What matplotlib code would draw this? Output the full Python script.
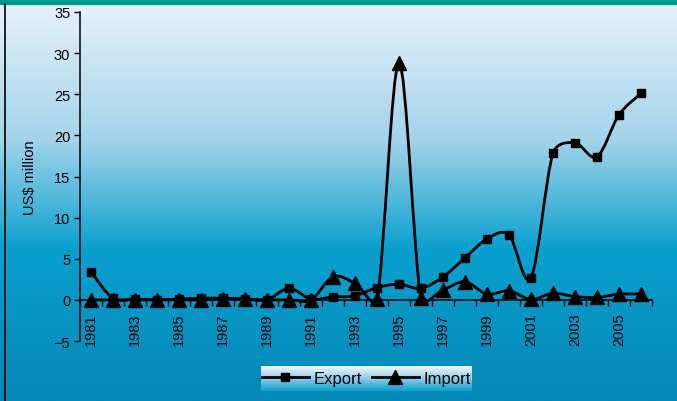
import matplotlib
matplotlib.use("Agg")
import matplotlib.pyplot as plt
import numpy as np
from matplotlib.path import Path
from matplotlib.patches import PathPatch, Rectangle
from matplotlib.colors import LinearSegmentedColormap
from matplotlib.lines import Line2D

plt.rcParams['font.family'] = ['Liberation Sans', 'DejaVu Sans']

# donnees (US$ million)
years = list(range(1981, 2007))
export = [3.4, 0.2, 0.1, 0.0, 0.1, 0.2, 0.2, 0.1, 0.0, 1.4, 0.1, 0.35, 0.5,
          1.5, 1.9, 1.4, 2.8, 5.1, 7.4, 7.9, 2.7, 17.8, 19.1, 17.4, 22.5, 25.1]
imports = [0.0, 0.0, 0.0, 0.0, 0.0, 0.0, 0.1, 0.1, 0.0, 0.0, 0.0, 2.8, 2.0,
           0.1, 28.8, 0.2, 1.2, 2.2, 0.7, 1.1, 0.05, 0.8, 0.4, 0.3, 0.7, 0.7]
yticks = [-5, 0, 5, 10, 15, 20, 25, 30, 35]

# echelle approx. en pixels (pour le lissage)
PX_X, PX_Y = 22.0, 8.23


def smooth_path(x, y, f=0.5):
    # courbe lissee facon Excel (Bezier Catmull-Rom, bras limites)
    pts = np.column_stack([np.asarray(x) * PX_X, np.asarray(y) * PX_Y]).astype(float)
    n = len(pts)
    verts = [pts[0]]
    codes = [Path.MOVETO]
    for i in range(n - 1):
        p0 = pts[i - 1] if i > 0 else pts[i]
        p1 = pts[i]
        p2 = pts[i + 1]
        p3 = pts[i + 2] if i + 2 < n else pts[i + 1]
        seg = np.hypot(*(p2 - p1))
        a1 = (p2 - p0) / 6.0
        a2 = (p3 - p1) / 6.0
        for a in (a1, a2):
            l = np.hypot(*a)
            if l > f * seg:
                a *= f * seg / l
        verts += [p1 + a1, p2 - a2, p2]
        codes += [Path.CURVE4] * 3
    verts = np.array(verts) / [PX_X, PX_Y]
    return Path(verts, codes)


fig = plt.figure(figsize=(6.77, 4.02), dpi=100)

# fond en degrade
bg = fig.add_axes([0, 0, 1, 1], zorder=0)
cmap = LinearSegmentedColormap.from_list(
    'bg', [(0, '#e9f3fa'), (0.35, '#a3d3ea'), (0.62, '#0ba1cf'), (1, '#0387b6')])
grad = np.linspace(0, 1, 256).reshape(-1, 1)
bg.imshow(grad, aspect='auto', cmap=cmap, extent=[0, 1, 0, 1], origin='upper')
bg.add_patch(Rectangle((0, 1 - 5 / 402), 1, 5 / 402, color='#009a92', zorder=3))
bg.plot([5 / 677, 5 / 677], [0, 1 - 5 / 402], color='black', lw=1.2, zorder=3)
bg.set_xlim(0, 1)
bg.set_ylim(0, 1)
bg.axis('off')

ax = fig.add_axes([80 / 677, 1 - 342 / 402, 572 / 677, 329 / 402], zorder=1)
ax.set_facecolor('none')

x = np.arange(len(years))
for vals, mk, ms in [(export, 's', 6), (imports, '^', 10)]:
    ax.add_patch(PathPatch(smooth_path(x, vals), fill=False, lw=2.0,
                           edgecolor='black', zorder=3, clip_on=False))
    ax.plot(x, vals, linestyle='none', marker=mk, markersize=ms,
            color='black', zorder=4, clip_on=False)

ax.set_xlim(-0.5, len(years) - 0.5)
ax.set_ylim(-5, 35)
ax.set_yticks(yticks)
ax.tick_params(axis='y', direction='out', length=4, width=1, labelsize=10.5, pad=3)

ax.spines['top'].set_visible(False)
ax.spines['right'].set_visible(False)
ax.spines['bottom'].set_position(('data', 0))
ax.spines['left'].set_linewidth(1.1)
ax.spines['bottom'].set_linewidth(1.1)

ax.set_xticks(x[::2])
ax.set_xticklabels([str(yr) for yr in years[::2]], rotation=90, va='top', ha='center')
ax.set_xticks(np.arange(-0.5, len(years), 1), minor=True)
ax.tick_params(axis='x', which='major', length=0, labelsize=10.5, pad=9)
ax.tick_params(axis='x', which='minor', direction='out', length=4, width=1)

ax.set_ylabel('US$ million', fontsize=10.5, labelpad=12)

# legende avec fond degrade
lg_ax = fig.add_axes([261 / 677, 1 - 392 / 402, 211 / 677, 25 / 402], zorder=2)
lcmap = LinearSegmentedColormap.from_list('lg', ['#f4f9fc', '#8fcbe6', '#0aa0ce'])
lg_ax.imshow(grad, aspect='auto', cmap=lcmap, extent=[0, 1, 0, 1], origin='upper')
lg_ax.axis('off')
handles = [Line2D([], [], color='black', lw=2, marker='s', markersize=6),
           Line2D([], [], color='black', lw=2, marker='^', markersize=10)]
leg = fig.legend(handles, ['Export', 'Import'], loc='center', ncol=2,
                 bbox_to_anchor=(366.5 / 677, 1 - 379.5 / 402), frameon=False,
                 fontsize=12, handlelength=2.8, columnspacing=0.6, handletextpad=0.3)
leg.set_zorder(5)

fig.savefig('out.png', dpi=100)
